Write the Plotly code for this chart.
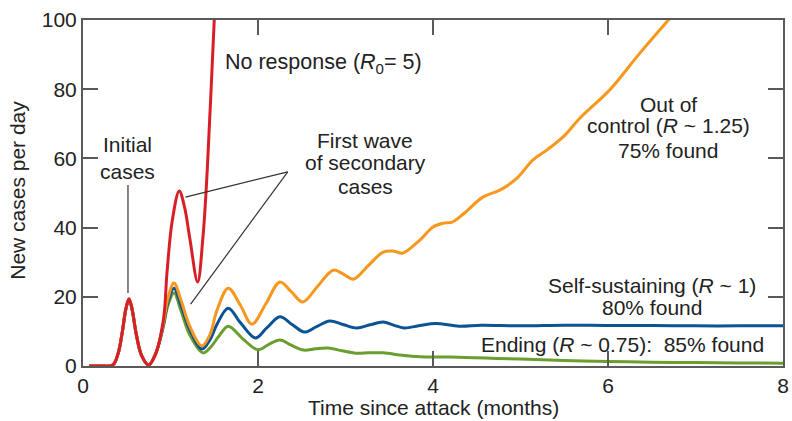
import plotly.graph_objects as go

# ---- data (months, new cases per day) ----
red_x = [0.07, 0.20, 0.34, 0.40, 0.45, 0.49, 0.526, 0.56, 0.61, 0.67, 0.75, 0.83,
         0.92, 0.96, 1.02, 1.10, 1.16, 1.22, 1.31, 1.37, 1.42, 1.50, 1.55]
red_y = [0, 0, 0.3, 3.5, 10, 16.5, 19.4, 16.5, 9, 3, 0.3, 3.5,
         13.5, 27, 42, 50.6, 46, 37, 24.3, 37, 56.6, 100, 125]

shared_x = [0.07, 0.20, 0.34, 0.40, 0.45, 0.49, 0.526, 0.56, 0.61, 0.67, 0.75, 0.83]
shared_y = [0, 0, 0.3, 3.5, 10, 16.5, 19.4, 16.5, 9, 3, 0.3, 3.5]

orange_x = [0.92, 0.97, 1.04, 1.12, 1.22, 1.36, 1.45, 1.53, 1.66, 1.80, 1.93, 2.09,
            2.25, 2.38, 2.51, 2.68, 2.86, 2.98, 3.09, 3.26, 3.43, 3.55, 3.65, 3.85,
            4.00, 4.12, 4.22, 4.35, 4.57, 4.77, 4.96, 5.14, 5.30, 5.50, 5.68, 6.02,
            6.35, 6.69, 6.90]
orange_y = [12.5, 19.5, 24.0, 19, 11.5, 5.8, 9, 16, 22.5, 17.5, 12.1, 18,
            24.3, 21.5, 18.5, 23, 27.7, 26.5, 25.1, 29, 32.9, 33.2, 32.6, 36.4,
            40.2, 41.3, 41.6, 44, 48.8, 50.9, 54.3, 59.5, 62.4, 66.5, 71.7, 79.8,
            90, 100, 106]

blue_x = [0.92, 0.97, 1.04, 1.12, 1.22, 1.36, 1.45, 1.53, 1.66, 1.80, 1.97, 2.10,
          2.25, 2.39, 2.53, 2.67, 2.82, 2.97, 3.13, 3.28, 3.43, 3.55, 3.67, 3.85,
          4.03, 4.30, 4.55, 5.0, 5.5, 6.0, 6.5, 7.0, 7.5, 8.0]
blue_y = [12, 18.5, 22.5, 17.5, 10.5, 4.9, 7.5, 12, 16.7, 12.5, 8.1, 11,
          14.2, 12, 9.8, 11.4, 13.0, 12, 11.0, 11.9, 12.7, 11.8, 11.0, 11.7,
          12.3, 11.5, 11.8, 11.6, 11.8, 11.7, 11.7, 11.6, 11.6, 11.6]

green_x = [0.92, 0.97, 1.04, 1.12, 1.22, 1.37, 1.46, 1.55, 1.66, 1.82, 2.00, 2.12,
           2.25, 2.38, 2.52, 2.66, 2.80, 2.96, 3.12, 3.27, 3.43, 3.65, 3.85, 4.2,
           4.6, 5.0, 5.5, 6.0, 6.5, 7.0, 7.5, 8.0]
green_y = [11.5, 17.5, 21.1, 16, 9, 3.8, 5.5, 8.5, 11.5, 8, 4.7, 6.2,
           7.5, 6, 4.6, 5, 5.2, 4.4, 3.7, 3.8, 3.8, 3.1, 2.7, 2.6,
           2.3, 2.0, 1.6, 1.3, 1.1, 1.0, 0.9, 0.8]

x_ticks = [0, 2, 4, 6, 8]
y_ticks = [0, 20, 40, 60, 80, 100]

RED, ORANGE, BLUE, GREEN = "#d81f26", "#f7971e", "#0b5394", "#6a9e2f"
FONT = "Liberation Sans, Arial, sans-serif"
TXT = "#222222"
AX = "#5a5a5a"

fig = go.Figure()
for xs, ys, col in [(green_x, green_y, GREEN), (blue_x, blue_y, BLUE),
                    (orange_x, orange_y, ORANGE)]:
    fig.add_trace(go.Scatter(x=shared_x + xs, y=shared_y + ys, mode="lines",
                             line=dict(color=col, width=3, shape="spline", smoothing=1),
                             hoverinfo="skip", showlegend=False))
fig.add_trace(go.Scatter(x=red_x, y=red_y, mode="lines",
                         line=dict(color=RED, width=3, shape="spline", smoothing=1),
                         hoverinfo="skip", showlegend=False))

# leader lines
fig.add_shape(type="line", x0=0.514, y0=52.3, x1=0.514, y1=21.1,
              line=dict(color="#333333", width=1.2))
fig.add_shape(type="line", x0=2.34, y0=56.1, x1=1.17, y1=48.8,
              line=dict(color="#333333", width=1.2))
fig.add_shape(type="line", x0=2.34, y0=56.1, x1=1.23, y1=17.9,
              line=dict(color="#333333", width=1.2))

def note(text, x, y, size=21):
    fig.add_annotation(x=x, y=y, xref="x", yref="y", text=text, showarrow=False,
                       xanchor="center", yanchor="middle",
                       font=dict(family=FONT, size=size, color=TXT))

note("Initial", 0.514, 63.9)
note("cases", 0.514, 56.1)
note("No response (<i>R</i><sub>0</sub>= 5)", 2.754, 87.3, 21.5)
note("First wave", 3.223, 65.3)
note("of secondary", 3.223, 58.7)
note("cases", 3.223, 52.0)
note("Out of", 6.686, 75.7)
note("control (<i>R</i> ~ 1.25)", 6.686, 69.4)
note("75% found", 6.686, 62.4)
note("Self-sustaining (<i>R</i> ~ 1)", 6.503, 23.4)
note("80% found", 6.503, 16.8)
note("Ending (<i>R</i> ~ 0.75):&nbsp;&nbsp;85% found", 6.16, 6.1)

fig.add_annotation(x=0.5, y=-0.121, xref="paper", yref="paper",
                   text="Time since attack (months)", showarrow=False,
                   xanchor="center", yanchor="middle",
                   font=dict(family=FONT, size=21, color=TXT))
fig.add_annotation(x=-0.093, y=0.509, xref="paper", yref="paper",
                   text="New cases per day", showarrow=False, textangle=-90,
                   xanchor="center", yanchor="middle",
                   font=dict(family=FONT, size=21, color=TXT))

axis_common = dict(showline=True, linecolor=AX, linewidth=2, mirror="ticks",
                   ticks="inside", ticklen=15, tickwidth=1.5, tickcolor=AX,
                   showgrid=False, zeroline=False, automargin=False,
                   tickfont=dict(family=FONT, size=21, color=TXT))
fig.update_xaxes(range=[0, 8], tickvals=x_ticks, ticktext=[str(v) for v in x_ticks],
                 **axis_common)
fig.update_yaxes(range=[0, 100], tickvals=y_ticks, ticktext=[str(v) for v in y_ticks],
                 **axis_common)

fig.update_layout(width=792, height=421, margin=dict(l=83, r=9, t=20, b=55),
                  plot_bgcolor="white", paper_bgcolor="white",
                  font=dict(family=FONT, color=TXT))

fig.write_html("out.html")
